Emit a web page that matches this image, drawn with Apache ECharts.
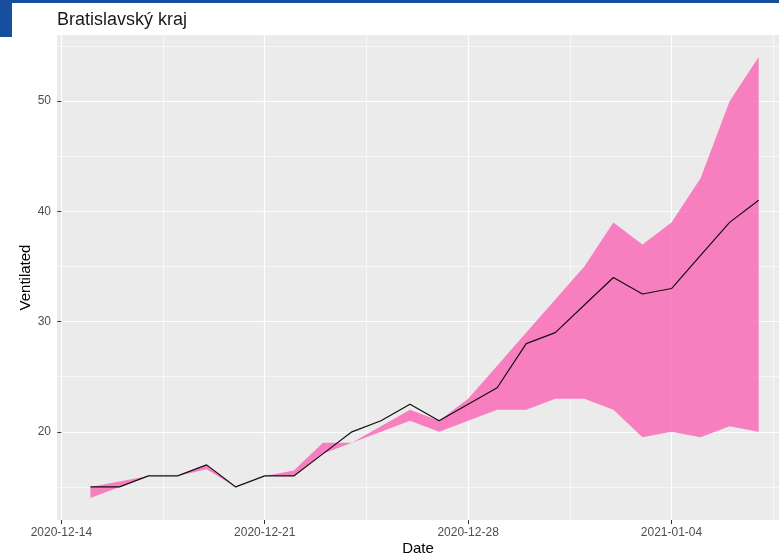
<!DOCTYPE html>
<html>
<head>
<meta charset="utf-8">
<script src="https://cdn.jsdelivr.net/npm/echarts@6/dist/echarts.min.js"></script>
<style>
  html, body { margin: 0; padding: 0; background: #fff; }
  #chart { width: 779px; height: 557px; }
</style>
</head>
<body>
<div id="chart"></div>
<script>
// data
const dates = ['2020-12-15','2020-12-16','2020-12-17','2020-12-18','2020-12-19','2020-12-20',
  '2020-12-21','2020-12-22','2020-12-23','2020-12-24','2020-12-25','2020-12-26','2020-12-27',
  '2020-12-28','2020-12-29','2020-12-30','2020-12-31','2021-01-01','2021-01-02','2021-01-03',
  '2021-01-04','2021-01-05','2021-01-06','2021-01-07']
const median = [15, 15, 16, 16, 17, 15, 16, 16, 18, 20, 21, 22.5, 21, 22.5, 24, 28, 29, 31.5, 34, 32.5, 33, 36, 39, 41]
const upper  = [15, 15.5, 16, 16, 17, 15, 16, 16.5, 19, 19, 20.5, 22, 21, 23, 26, 29, 32, 35, 39, 37, 39, 43, 50, 54]
const lower  = [14, 15, 16, 16, 16.6, 15, 16, 16, 18, 19, 20, 21, 20, 21, 22, 22, 23, 23, 22, 19.5, 20, 19.5, 20.5, 20]

// axis ticks
const xTickLabels = ['2020-12-14', '2020-12-21', '2020-12-28', '2021-01-04']
const xMinorLabels = ['2020-12-17T12:00:00Z', '2020-12-24T12:00:00Z', '2020-12-31T12:00:00Z', '2021-01-07T12:00:00Z']
const yTicks = [20, 30, 40, 50]
const yMinorTicks = [15, 25, 35, 45, 55]

const DAY = 86400000
const origin = Date.parse('2020-12-14')
const toDay = d => (Date.parse(d) - origin) / DAY

const xMajor = xTickLabels.map(toDay)
const xMinor = xMinorLabels.map(toDay)
const xs = dates.map(toDay)

const target = document.getElementById('chart')
const myCharts = echarts.init(target)

const xBase = { type: 'value', min: -0.15, max: 24.7, gridIndex: 0 }
const yBase = { type: 'value', min: 12, max: 56, gridIndex: 0 }

//band polygon: upper edge left to right, lower edge back
const renderBand = (params, api) => {
  if (params.dataIndex !== 0) return
  const pts = []
  xs.forEach((x, i) => pts.push(api.coord([x, upper[i]])))
  for (let i = xs.length - 1; i >= 0; i--) pts.push(api.coord([xs[i], lower[i]]))
  return {
    type: 'polygon',
    shape: { points: pts },
    style: { fill: 'rgba(249,108,183,0.85)' }
  }
}

const options = {
  animation: false,
  textStyle: { fontFamily: 'Liberation Sans, Arial, sans-serif' },
  title: {
    text: 'Bratislavský kraj',
    left: 57,
    top: 11,
    padding: 0,
    textStyle: { fontSize: 18, fontWeight: 'normal', color: '#1a1a1a' }
  },
  graphic: [
    { type: 'rect', left: 0, top: 0, shape: { width: 779, height: 3 }, style: { fill: '#164ea0' } },
    { type: 'rect', left: 0, top: 0, shape: { width: 12, height: 37 }, style: { fill: '#164ea0' } }
  ],
  grid: {
    left: 57, right: 0, top: 35, bottom: 37,
    outerBoundsMode: 'none',
    containLabel: false,
    show: true,
    backgroundColor: '#ebebeb',
    borderWidth: 0
  },
  xAxis: [
    {
      ...xBase,
      name: 'Date',
      nameLocation: 'middle',
      nameGap: 21,
      nameMoveOverlap: false,
      nameTextStyle: { fontSize: 15, color: '#000' },
      axisLine: { show: false },
      axisTick: { show: true, length: 4, lineStyle: { color: '#333', width: 1 }, customValues: xMajor },
      axisLabel: {
        customValues: xMajor,
        color: '#4d4d4d', fontSize: 12, margin: 7,
        formatter: v => xTickLabels[xMajor.indexOf(v)] || ''
      },
      splitLine: { show: true, lineStyle: { color: '#fff', width: 1.2 } }
    },
    {
      ...xBase,
      axisLine: { show: false },
      axisTick: { show: false, customValues: xMinor },
      axisLabel: { show: false, customValues: xMinor },
      splitLine: { show: true, lineStyle: { color: '#fff', width: 0.6 } }
    }
  ],
  yAxis: [
    {
      ...yBase,
      name: 'Ventilated',
      nameLocation: 'middle',
      nameGap: 24,
      nameMoveOverlap: false,
      nameTextStyle: { fontSize: 15, color: '#000' },
      axisLine: { show: false },
      axisTick: { show: true, length: 4, lineStyle: { color: '#333', width: 1 }, customValues: yTicks },
      axisLabel: { customValues: yTicks, color: '#4d4d4d', fontSize: 12, margin: 6 },
      splitLine: { show: true, lineStyle: { color: '#fff', width: 1.2 } }
    },
    {
      ...yBase,
      axisLine: { show: false },
      axisTick: { show: false, customValues: yMinorTicks },
      axisLabel: { show: false, customValues: yMinorTicks },
      splitLine: { show: true, lineStyle: { color: '#fff', width: 0.6 } }
    }
  ],
  series: [
    {
      type: 'custom',
      renderItem: renderBand,
      data: xs.map((x, i) => [x, lower[i], upper[i]]),
      encode: { x: 0, y: [1, 2] },
      silent: true,
      z: 2
    },
    {
      type: 'line',
      data: xs.map((x, i) => [x, median[i]]),
      lineStyle: { color: '#111', width: 1.2 },
      showSymbol: false,
      z: 5
    }
  ]
}
myCharts.setOption(options)
</script>
</body>
</html>
